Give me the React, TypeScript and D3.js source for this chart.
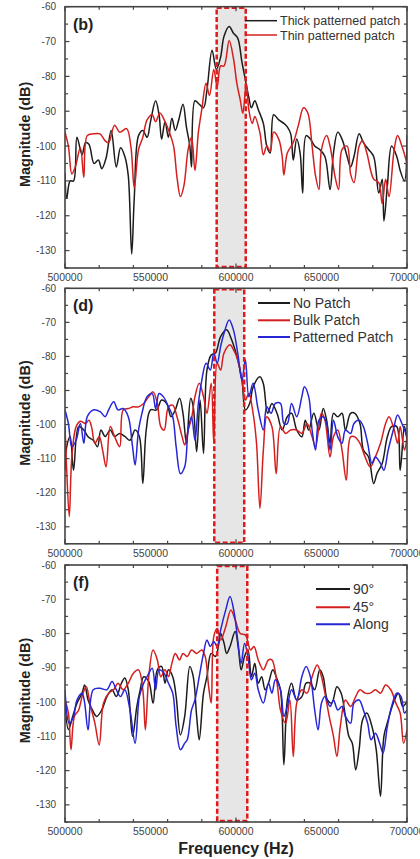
import { useEffect, useRef } from 'react';
import * as d3 from 'd3';

// frequency in kHz, magnitude in dB
const thickPatterned: [number, number][] = [
  [500, -107.8], [501, -115], [503, -110], [505, -110], [507, -97.5], [510, -102.5], [512, -99], [514, -99.5],
  [517, -105], [519.5, -104], [521.5, -106.5], [524, -103.5], [527, -95.5], [530, -106], [532.5, -100.5],
  [535, -103], [537, -108.5], [539, -131], [540.5, -115], [543, -97], [545.5, -95.5], [548, -97.5], [550, -93],
  [553, -87], [555, -91], [556.5, -98], [558.5, -93], [560.5, -97.5], [562.5, -92], [564.5, -95.5], [566.5, -92.5],
  [569, -88], [571, -94.5], [573, -100], [574, -106], [576, -87], [578.5, -88], [581, -89], [583, -84],
  [586, -72.5], [588.5, -78], [591, -74.5], [593, -68.5], [596, -65.7], [598.5, -67.6], [601, -69], [603.5, -76],
  [605.5, -81], [607.5, -86], [609, -89], [611, -87], [613, -89.5], [616, -93.5], [618, -100], [620, -102],
  [622, -91], [625, -92.5], [628, -93.5], [630, -94.5], [632, -96.5], [633.5, -104], [635.5, -98], [637.5, -102],
  [639, -113.5], [641, -97], [643.5, -98], [646, -100], [649, -101], [652, -103], [655, -112.5], [657, -102],
  [659.5, -96], [662, -98], [665, -103], [667, -106], [669, -103], [672, -96.5], [674.5, -99], [677.5, -101],
  [680.5, -103], [683.5, -113.5], [685.5, -109.5], [686.5, -121.5], [688.5, -111.5], [691, -100], [694, -103],
  [696, -107], [698.5, -110], [700, -97],
];
const thinPatterned: [number, number][] = [
  [500, -96], [502, -100], [504, -108], [506, -106], [509, -100.5], [511, -109], [513, -97], [516.5, -96.5],
  [520.5, -96.5], [523.5, -98.5], [525.5, -99], [529, -94], [532, -96], [536, -95], [538.5, -100], [540.5, -112],
  [543, -101], [545.5, -97.5], [548, -92.5], [551, -91], [553, -93], [555.5, -90.5], [558.5, -93], [561, -96],
  [563.5, -100], [565.5, -109], [567.5, -114.5], [569.5, -111.5], [572, -101], [574, -97.5], [576, -107],
  [578, -96], [580, -89.5], [582.5, -82], [584.5, -85.5], [587, -78], [589, -83], [591, -77], [593, -77],
  [596, -69.7], [598.5, -74.8], [600.5, -82], [602.5, -86.8], [604, -90.6], [606, -82], [607.5, -89.6],
  [609.5, -93.5], [611, -91.5], [614, -96.2], [616, -102.5], [618, -100], [620, -101.5], [622, -96], [625, -98],
  [627, -103], [628, -108.3], [630, -102], [633.5, -99], [636.5, -94], [639.5, -89], [642, -90.5], [644.5, -100],
  [646.5, -108.5], [648.5, -112.5], [650, -101], [653, -97], [655, -100], [658, -109], [660, -112.5], [662, -101],
  [665, -100], [667, -108], [669, -110.5], [672, -100], [674, -98.5], [676.5, -102], [680.5, -109.5],
  [683.5, -110.5], [685.5, -116.5], [687.5, -109.5], [689.5, -114.5], [692.5, -101], [694.5, -97], [697, -100],
  [700, -105],
];

const noPatch: [number, number][] = [
  [500, -113.4], [501, -106.5], [503, -103.5], [505, -113.4], [508, -100.6], [511, -101.6], [513.5, -103.6],
  [516.5, -104.6], [519, -106.5], [521, -101.6], [523.5, -103.5], [526.5, -101.6], [529, -103.5], [532, -102.6],
  [535, -103.5], [538, -104.6], [541, -101.6], [543.5, -103.5], [545.5, -117.3], [547.5, -101.6], [550, -95.7],
  [553.5, -95.7], [556.5, -92.8], [559.5, -93.8], [562, -97.7], [564.5, -95.7], [567, -92.3], [569, -96.7],
  [571, -105.5], [573.5, -92.3], [575, -94.8], [577, -108], [579, -92.8], [581, -108.5], [583, -84],
  [585.5, -79.6], [588, -79], [591, -74.2], [594.5, -72.2], [597.5, -75.2], [600.5, -80], [603.5, -87],
  [605.5, -95.7], [608, -93.8], [610, -89], [614, -86], [616, -88], [618.5, -96.7], [621, -93.8], [624, -96.7],
  [627, -101.6], [630, -97.7], [632.5, -96.7], [635.5, -101.6], [638.5, -103.6], [640.5, -98.7], [642.5, -101.6],
  [645.5, -96.7], [648.5, -101.6], [651, -95.3], [653, -98.7], [655, -105.5], [657, -96.7], [659.5, -97.7],
  [662, -96.7], [664, -101.6], [667, -96.7], [669.5, -96.7], [672.5, -99.7], [674.5, -107.5], [677.5, -109.5],
  [680.5, -117.3], [682.5, -114.3], [685.5, -111.4], [688.5, -103.6], [691, -100.6], [694, -100.6],
  [696, -113.4], [698.5, -100.6], [700, -104.6],
];
const bulkPatch: [number, number][] = [
  [500, -100.6], [501, -113.4], [502.5, -127], [504, -109.5], [506.5, -100.6], [509, -99], [512, -99.7],
  [514, -98.7], [515.5, -100.6], [517.5, -105.5], [520, -103.5], [522, -107.5], [524, -112.4], [526.5, -100.6],
  [529, -103.5], [532, -106.5], [534, -95.7], [537, -95.3], [540, -94.8], [543, -94.8], [546, -93.8],
  [549, -91.8], [551.5, -90.4], [554, -93.8], [556, -100.6], [558, -101.6], [560.5, -94.8], [563, -94.3],
  [565.5, -97.7], [568.5, -103.6], [570, -106], [572, -101.6], [574, -98.2], [576, -91.8], [578.5, -87.9],
  [581, -91.8], [583, -96.7], [585.5, -87.9], [587, -105.5], [589, -82], [591, -84], [593, -79], [596.5, -76.6],
  [598.5, -78], [601, -81], [603.5, -87], [605.5, -92.8], [607.5, -90.9], [610, -96.7], [612, -105.5],
  [614, -124.6], [616, -107.5], [618, -97.7], [621, -100.6], [623.5, -114.4], [626, -100.6], [629, -102.6],
  [632, -101.6], [635.5, -101.6], [638.5, -102.6], [641.5, -99.7], [644.5, -103.6], [646.5, -106.5],
  [648.5, -100.6], [650, -96.7], [652, -98.7], [655, -109.5], [657, -103.6], [659.5, -101.6], [662, -107.5],
  [664.5, -116.3], [667, -103.6], [669.5, -103.6], [672.5, -105.5], [675.5, -109.5], [678.5, -112.4],
  [681.5, -109.5], [684.5, -105.5], [687.5, -99.7], [689.5, -97.7], [692.5, -101.6], [694.5, -105.5],
  [696, -100.6], [698.5, -107.5], [700, -103.6],
];
const patternedPatch: [number, number][] = [
  [500, -95.7], [502, -99.7], [504, -106.5], [506.5, -104.6], [509, -99.7], [511, -105.5], [513, -97.7],
  [516.5, -95.7], [520.5, -96.2], [523.5, -97.7], [525.5, -95.7], [528.5, -93.3], [531, -95.7], [534, -95.3],
  [537, -97.7], [539.5, -106.5], [541, -111.9], [543, -101.6], [545, -96.7], [548, -91.8], [551, -90.9],
  [553, -95.3], [555, -90.9], [557.5, -91.8], [560.5, -94.8], [563, -97.7], [565, -106.5], [567.5, -114.4],
  [570, -112.4], [572, -101.6], [574, -97.7], [576, -104.6], [578, -93.8], [580, -87], [582.5, -82], [585, -84],
  [587, -79], [589, -82], [591, -77.1], [593, -73.2], [596, -69.3], [598.5, -72.2], [601, -79], [603.5, -87],
  [605.5, -81], [607.5, -91.8], [610, -87.9], [613, -95.7], [616, -101.6], [618, -94.8], [620.5, -96.7],
  [623, -93.8], [626, -93.8], [628, -99.7], [630, -99.7], [632.5, -93.8], [635.5, -97.7], [638.5, -91.8],
  [640, -88.9], [642.5, -91.8], [644.5, -101.6], [646.5, -107.5], [648.5, -98.7], [651, -97.7], [653, -99.7],
  [655, -107.5], [657, -98.7], [659.5, -103.6], [662, -105.5], [664, -101.6], [667, -102.6], [669, -99.7],
  [672, -98.7], [674.5, -100.6], [677, -105.5], [679.5, -111.4], [681.5, -109.5], [684.5, -111.4],
  [686.5, -113.4], [689, -107.5], [692, -101.6], [694.5, -97.2], [697, -99.7], [700, -103.6],
];

const deg90: [number, number][] = [
  [500, -100.3], [502, -108], [504.5, -104.2], [507, -100.3], [510, -97.4], [511.5, -95], [513.5, -99.4],
  [516, -102.3], [518.5, -104.2], [521.5, -102.3], [524.5, -98.4], [527.5, -96.4], [530, -98.4], [533, -94.5],
  [535, -93], [537, -96.4], [539.5, -110], [542, -101.3], [544, -96.4], [546, -92.6], [549, -94], [551.5, -100.3],
  [554, -90.6], [556.5, -89.6], [558.5, -94.5], [560.5, -90.6], [563, -92.6], [565, -98.4], [567.5, -109.6],
  [570, -104.2], [573, -89.6], [575, -92.6], [577, -104.2], [578.5, -111], [581, -97.4], [583, -92.6],
  [585.5, -85.8], [588, -86.7], [590, -82.8], [591, -79.9], [593, -82.8], [594.5, -85.8], [596.5, -83.8],
  [599.5, -79.4], [601.5, -84.8], [603, -90.6], [605, -86.7], [607, -84.8], [609, -92.6], [611, -88.7],
  [613, -94.5], [615, -92.6], [617, -96.4], [619, -94.5], [621.5, -90.6], [623.5, -92.6], [626, -96.4],
  [628, -118.3], [630, -99.4], [632.5, -94.5], [635.5, -99.4], [638.5, -98.4], [641, -94.5], [643.5, -94.5],
  [646, -96.4], [649, -90.6], [651, -92.6], [653.5, -99.4], [656, -100.3], [659, -95.5], [661.5, -97.4],
  [664, -104.2], [666, -110], [668, -112], [670, -119.8], [672, -113.9], [674, -105.2], [676.5, -103.2],
  [679.5, -107.1], [682, -113.9], [684.5, -127.5], [686.5, -110], [689, -105.2], [692, -100.3], [695, -97.4],
  [697.5, -101.3], [700, -99.8],
];
const deg45: [number, number][] = [
  [500, -99.4], [502, -103.2], [503.5, -113.9], [505.5, -104.2], [508, -102.3], [510.5, -97.4], [512.5, -95.5],
  [514.5, -100.3], [517.5, -106.2], [520, -112.5], [522.5, -100.3], [525.5, -97.4], [528.5, -96.4], [531, -94.5],
  [534, -96.4], [537, -94.5], [540, -91.6], [543, -90.6], [545.5, -96.4], [547, -108.1], [549, -92.6],
  [551.5, -84.8], [554, -87.7], [556, -92.6], [558.5, -90.6], [560.5, -92.6], [562.5, -88.7], [564.5, -85.8],
  [567, -87.7], [569, -85.8], [571.5, -86.7], [574, -84.8], [577, -85.8], [580, -84.8], [582, -86.7],
  [584, -95.5], [585.5, -100.3], [587, -80.9], [589, -78.5], [591, -81.9], [594, -78], [597, -73.1],
  [599.5, -76], [602.5, -80], [605.5, -80.4], [608.5, -84.8], [610.5, -83.8], [613, -87.7], [616, -90.6],
  [619, -87.7], [621, -87.7], [624, -94.5], [626, -102.3], [629, -106.2], [631.5, -99.4], [633.5, -115.9],
  [635.5, -100.3], [638.5, -96.4], [641.5, -97.4], [644.5, -92.6], [647.5, -89.2], [650, -92.6], [652, -97.4],
  [654.5, -104.2], [657, -110], [659, -115.9], [661, -107.1], [664, -99.4], [667, -101.3], [670, -98.4],
  [672.5, -96.4], [675.5, -97.4], [678.5, -97.4], [681.5, -96.4], [684.5, -97.4], [687.5, -95], [690.5, -96.4],
  [693.5, -100.3], [696, -103.2], [698, -112], [700, -108.1],
];
const along: [number, number][] = [
  [500, -96.4], [502.5, -106.2], [505, -104.2], [507, -99.4], [510, -97.4], [511.5, -100.3], [513.5, -108.1],
  [516.5, -96.4], [520.5, -96], [524.5, -96.4], [527.5, -94], [530, -96.4], [532.5, -98.4], [535, -96.4],
  [538, -102.3], [541, -112], [543.5, -98.4], [546, -94.5], [548, -92.6], [551, -90.1], [553, -96.4],
  [555, -90.6], [558, -91.6], [560.5, -94.5], [563, -97.4], [565, -107.1], [567.5, -113.9], [570, -112],
  [571.5, -111], [574, -102.3], [576, -99.4], [578.5, -92.6], [581, -85.8], [583, -81.9], [585, -83.8],
  [587, -82.3], [589, -83.8], [591, -79], [594, -73.1], [596.5, -69.2], [599, -74.1], [601, -81.9], [603, -88.7],
  [605, -82.8], [607, -86.7], [609, -93.5], [611, -91.6], [613, -96.4], [616, -100.3], [619, -94.5], [621, -97.4],
  [623, -93.5], [626, -96.4], [628, -104.2], [630, -101.3], [632.5, -96.4], [635.5, -99.4], [638.5, -92.6],
  [641, -89.6], [643.5, -92.6], [646, -102.3], [648, -108.1], [650, -100.3], [652, -98.4], [655, -101.3],
  [657, -99.4], [659.5, -102.3], [662, -101.3], [664, -104.2], [667, -106.2], [669, -100.3], [672, -99.4],
  [674.5, -102.3], [677, -106.2], [679, -111], [681.5, -109.1], [684, -112], [686, -114.9], [688.5, -107.1],
  [691, -101.3], [694, -97.4], [696.5, -98.4], [698.5, -103.2], [700, -102.3],
];

const FREQ_LABELS = [500000, 550000, 600000, 650000, 700000];
const DB_LABELS = [-60, -70, -80, -90, -100, -110, -120, -130];
const PANEL_LABELS = ['(b)', '(d)', '(f)'];
const NAMES_B = ['Thick patterned patch', 'Thin patterned patch'];
const NAMES_D = ['No Patch', 'Bulk Patch', 'Patterned Patch'];
const NAMES_F = ['90°', '45°', 'Along'];
// highlighted band around the resonance, kHz
const BANDS: [number, number][] = [[588.7, 605.7], [587.3, 604.8], [589.0, 606.6]];

const BLACK = '#1c1c1c';
const RED = '#d41f1f';
const BLUE = '#2626d6';

const W = 420;
const H = 859;
const LEFT = 65;
const RIGHT = 407;

const panels = [
  {
    top: 6.7, bottom: 268, label: PANEL_LABELS[0], band: BANDS[0],
    series: [thickPatterned, thinPatterned], names: NAMES_B, colors: [BLACK, RED],
    legend: { x1: 245, x2: 277, tx: 280, rows: [20.7, 35], size: 12.5, width: 1.5 },
  },
  {
    top: 288.3, bottom: 543.8, label: PANEL_LABELS[1], band: BANDS[1],
    series: [noPatch, bulkPatch, patternedPatch], names: NAMES_D, colors: [BLACK, RED, BLUE],
    legend: { x1: 258, x2: 290, tx: 293, rows: [303, 320.3, 337], size: 14, width: 2 },
  },
  {
    top: 565, bottom: 822, label: PANEL_LABELS[2], band: BANDS[2],
    series: [deg90, deg45, along], names: NAMES_F, colors: [BLACK, RED, BLUE],
    legend: { x1: 316, x2: 350, tx: 353, rows: [589, 607.3, 624.3], size: 14, width: 2 },
  },
];

export default function App() {
  const svgRef = useRef<SVGSVGElement | null>(null);

  useEffect(() => {
    if (!svgRef.current) return;
    const svg = d3.select(svgRef.current);
    svg.selectAll('*').remove();

    const font = 'Liberation Sans, Arial, sans-serif';
    const x = d3.scaleLinear().domain([500000, 700000]).range([LEFT, RIGHT]);

    panels.forEach((p, i) => {
      const y = d3.scaleLinear().domain([-135, -60]).range([p.bottom, p.top]);
      const g = svg.append('g');

      // clip for the curves
      const clipId = `clip-${i}`;
      svg.append('defs').append('clipPath').attr('id', clipId)
        .append('rect')
        .attr('x', LEFT).attr('y', p.top)
        .attr('width', RIGHT - LEFT).attr('height', p.bottom - p.top);

      // grey band with red dashed border
      const bx0 = x(p.band[0] * 1000);
      const bx1 = x(p.band[1] * 1000);
      g.append('rect')
        .attr('x', bx0).attr('y', p.top + 1)
        .attr('width', bx1 - bx0).attr('height', p.bottom - p.top - 2)
        .attr('fill', '#e6e6e6');

      const line = d3.line<[number, number]>()
        .x(d => x(d[0] * 1000))
        .y(d => y(d[1]))
        .curve(d3.curveCatmullRom.alpha(0.5));

      p.series.forEach((s, k) => {
        g.append('path')
          .attr('d', line(s))
          .attr('fill', 'none')
          .attr('stroke', p.colors[k])
          .attr('stroke-width', 1.5)
          .attr('stroke-linejoin', 'round')
          .attr('clip-path', `url(#${clipId})`);
      });

      g.append('rect')
        .attr('x', bx0).attr('y', p.top + 1)
        .attr('width', bx1 - bx0).attr('height', p.bottom - p.top - 2)
        .attr('fill', 'none')
        .attr('stroke', '#e01a1a')
        .attr('stroke-width', 2.5)
        .attr('stroke-dasharray', '5,2.5');

      // frame
      g.append('rect')
        .attr('x', LEFT).attr('y', p.top)
        .attr('width', RIGHT - LEFT).attr('height', p.bottom - p.top)
        .attr('fill', 'none')
        .attr('stroke', '#444')
        .attr('stroke-width', 1.6);

      // inward ticks on all four sides
      const xt = x.ticks(8);
      xt.forEach(v => {
        const major = FREQ_LABELS.includes(v);
        const len = major ? 4.5 : 3;
        g.append('line').attr('x1', x(v)).attr('x2', x(v))
          .attr('y1', p.bottom).attr('y2', p.bottom - len)
          .attr('stroke', '#444').attr('stroke-width', 1.2);
        g.append('line').attr('x1', x(v)).attr('x2', x(v))
          .attr('y1', p.top).attr('y2', p.top + len)
          .attr('stroke', '#444').attr('stroke-width', 1.2);
      });
      y.ticks(15).forEach(v => {
        const major = DB_LABELS.includes(v);
        const len = major ? 4.5 : 3;
        g.append('line').attr('x1', LEFT).attr('x2', LEFT + len)
          .attr('y1', y(v)).attr('y2', y(v))
          .attr('stroke', '#444').attr('stroke-width', 1.2);
        g.append('line').attr('x1', RIGHT).attr('x2', RIGHT - len)
          .attr('y1', y(v)).attr('y2', y(v))
          .attr('stroke', '#444').attr('stroke-width', 1.2);
      });

      // tick labels (the last one runs off the right edge, as in the source figure)
      FREQ_LABELS.forEach(v => {
        g.append('text')
          .attr('x', x(v)).attr('y', p.bottom + 13)
          .attr('text-anchor', 'middle')
          .attr('font-family', font).attr('font-size', 10.5)
          .attr('fill', '#444')
          .text(String(v));
      });
      DB_LABELS.forEach(v => {
        g.append('text')
          .attr('x', 56).attr('y', y(v) + 3.5)
          .attr('text-anchor', 'end')
          .attr('font-family', font).attr('font-size', 10)
          .attr('fill', '#444')
          .text(String(v));
      });

      // y title
      const cy = (p.top + p.bottom) / 2 - 3;
      g.append('text')
        .attr('transform', `translate(30, ${cy}) rotate(-90)`)
        .attr('text-anchor', 'middle')
        .attr('font-family', font).attr('font-size', 14.5).attr('font-weight', 'bold')
        .attr('fill', '#222')
        .text('Magnitude (dB)');

      // panel label
      g.append('text')
        .attr('x', 73).attr('y', p.top + 23)
        .attr('font-family', font).attr('font-size', 16).attr('font-weight', 'bold')
        .attr('fill', '#222')
        .text(p.label);

      // legend
      const L = p.legend;
      p.names.forEach((name, k) => {
        g.append('line')
          .attr('x1', L.x1).attr('x2', L.x2)
          .attr('y1', L.rows[k]).attr('y2', L.rows[k])
          .attr('stroke', p.colors[k]).attr('stroke-width', L.width);
        g.append('text')
          .attr('x', L.tx).attr('y', L.rows[k] + L.size * 0.36)
          .attr('font-family', font).attr('font-size', L.size)
          .attr('fill', '#333')
          .text(name);
      });
    });

    svg.append('text')
      .attr('x', 236).attr('y', 854)
      .attr('text-anchor', 'middle')
      .attr('font-family', 'Liberation Sans, Arial, sans-serif')
      .attr('font-size', 16).attr('font-weight', 'bold')
      .attr('fill', '#222')
      .text('Frequency (Hz)');
  }, []);

  return (
    <div style={{ position: 'absolute', left: 0, top: 0, width: W, height: H, background: '#fff' }}>
      <svg ref={svgRef} width={W} height={H} style={{ display: 'block' }} />
    </div>
  );
}
